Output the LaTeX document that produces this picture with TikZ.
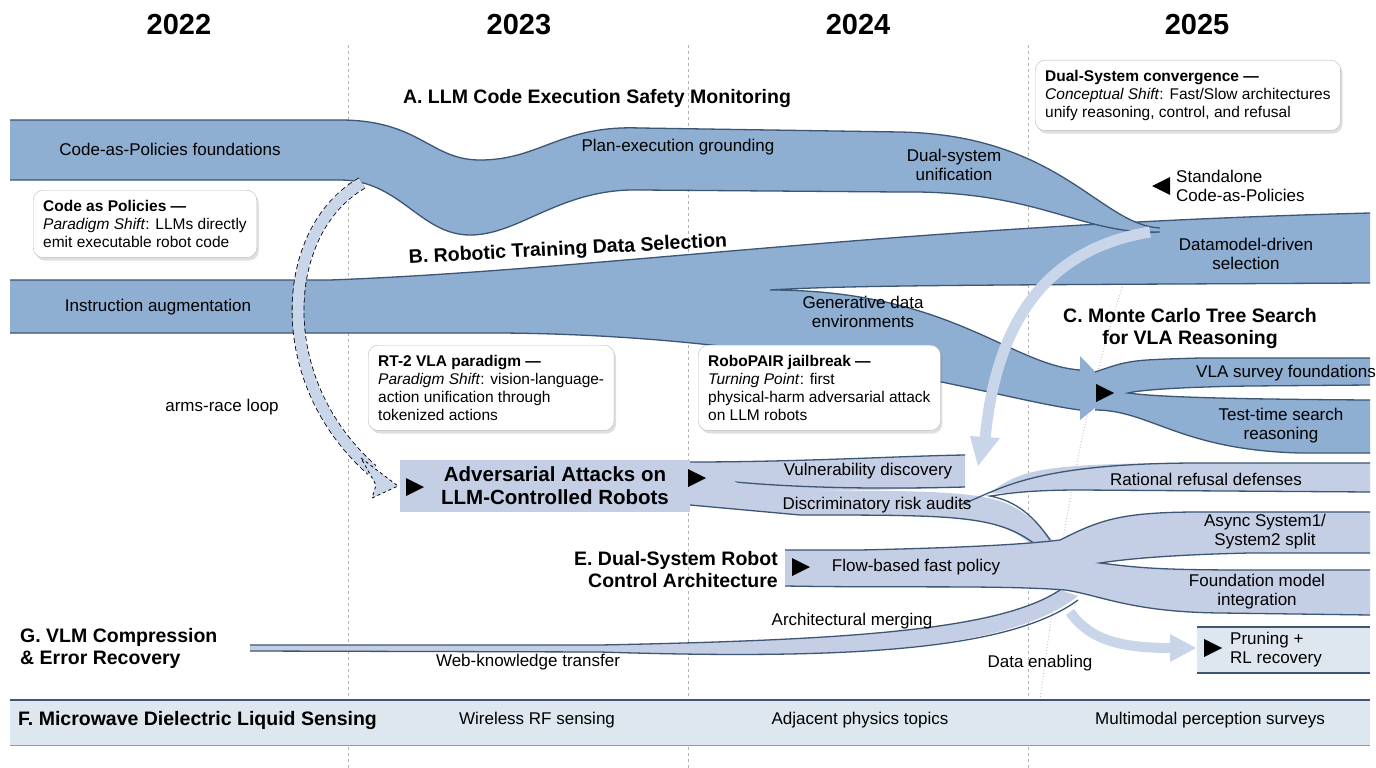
\documentclass[tikz,border=0pt]{standalone}
\usepackage{fontspec}
\setmainfont{Liberation Sans}
\usetikzlibrary{shadows,arrows.meta}
\definecolor{sA}{HTML}{8EAED2}
\definecolor{sEdge}{HTML}{3C5674}
\definecolor{sL}{HTML}{C4CEE4}
\definecolor{sF}{HTML}{DEE6EF}
\definecolor{arr}{HTML}{C9D6EA}
\tikzset{
 lab/.style={font=\fontsize{17}{19}\selectfont,align=center,inner sep=0pt},
 ttl/.style={font=\fontsize{19.5}{22}\selectfont\bfseries,align=center,inner sep=0pt},
 yr/.style={font=\fontsize{29}{32}\selectfont\bfseries,inner sep=0pt},
 card/.style={draw=gray!55,fill=white,rounded corners=10pt,drop shadow={opacity=0.25,shadow xshift=2pt,shadow yshift=-3pt},align=left,font=\fontsize{15.5}{18}\selectfont,inner sep=10pt,anchor=north west},
 edge/.style={draw=sEdge,line width=1.3pt},
 mk/.style={fill=black,draw=none},
}
\begin{document}
\begin{tikzpicture}[x=1pt,y=-1pt]
\useasboundingbox (0,0) rectangle (1376,768);
\fill[white] (0,0) rectangle (1376,768);
% year dividers
\foreach \x in {348,688,1028} \draw[gray!60,dashed,line width=0.6pt] (\x,45) -- (\x,768);
\draw[gray!50,dotted,line width=0.9pt] (1140,235) .. controls (1080,400) and (1060,550) .. (1040,700);
\node[yr] (y22) at (179,25) {2022};
\node[yr] (y23) at (519,25) {2023};
\node[yr] (y24) at (858,25) {2024};
\node[yr] (y25) at (1197,25) {2025};
% F band
\fill[sF] (10,700) -- (1370,700) -- (1370,745) -- (10,745) -- cycle;
\draw[edge] (10,700) -- (1370,700);
\draw[sEdge!60,line width=0.8pt] (10,745) -- (1370,745);
% stream B with branch to C
\fill[sA] (10,280) -- (330,280) .. controls (600,270) and (900,225) .. (1370,213) -- (1370,283) .. controls (1000,285) and (850,285) .. (770,290) .. controls (950,290) and (1010,365) .. (1080,370) -- (1080,356) -- (1115,392) -- (1080,420) -- (1080,410) .. controls (1000,400) and (800,335) .. (500,333) -- (10,333) -- cycle;
\draw[edge] (10,280) -- (330,280) .. controls (600,270) and (900,225) .. (1370,213);
\draw[edge] (1370,283) .. controls (1000,285) and (850,285) .. (770,290) .. controls (950,290) and (1010,365) .. (1080,370);
\draw[edge] (1080,410) .. controls (1000,400) and (800,335) .. (500,333) -- (10,333);
% C band
\fill[sA] (1095,372) .. controls (1130,360) .. (1200,358) -- (1370,358) -- (1370,385) -- (1250,386) .. controls (1180,387) and (1140,390) .. (1128,393) .. controls (1150,396) and (1200,399) .. (1370,400) -- (1370,453) -- (1300,453) .. controls (1180,450) and (1150,410) .. (1095,410) -- cycle;
\draw[edge] (1095,372) .. controls (1130,360) .. (1200,358) -- (1370,358);
\draw[edge] (1370,385) -- (1250,386) .. controls (1180,387) and (1140,390) .. (1128,393) .. controls (1150,396) and (1200,399) .. (1370,400);
\draw[edge] (1370,453) -- (1300,453) .. controls (1180,450) and (1150,410) .. (1095,410);
% stream A
\fill[sA] (10,120) -- (340,120) .. controls (420,120) and (430,160) .. (480,160) .. controls (540,160) and (560,125) .. (640,128) -- (900,132) .. controls (1060,135) and (1100,225) .. (1160,228) -- (1160,232) .. controls (1080,235) and (1040,190) .. (900,192) -- (640,190) .. controls (560,188) and (520,235) .. (470,235) .. controls (420,235) and (400,180) .. (340,180) -- (10,180) -- cycle;
\draw[edge] (10,120) -- (340,120) .. controls (420,120) and (430,160) .. (480,160) .. controls (540,160) and (560,125) .. (640,128) -- (900,132) .. controls (1060,135) and (1100,225) .. (1160,228);
\draw[edge] (1160,232) .. controls (1080,235) and (1040,190) .. (900,192) -- (640,190) .. controls (560,188) and (520,235) .. (470,235) .. controls (420,235) and (400,180) .. (340,180) -- (10,180);
% arms-race loop
\coordinate (arS) at (362,183);
\draw[black,dash pattern=on 5pt off 3pt,line width=12.6pt] (arS) .. controls (280,230) and (270,380) .. (372,470);
\draw[arr,line width=11pt] (arS) .. controls (280,230) and (270,380) .. (372,470);
\fill[arr,draw=black,dashed,line width=0.8pt] (361,458) -- (398,486) -- (372,498) -- (376,485) -- cycle;
% light arrow A/B merge -> vulnerability
\coordinate (mg) at (1150,232);
\draw[arr,line width=11pt] (mg) .. controls (1040,250) and (995,330) .. (985,440);
\fill[arr] (970,436) -- (1000,438) -- (978,466) -- cycle;
% D streams
\fill[sL] (690,462) .. controls (800,462) and (900,456) .. (965,455) -- (965,487) .. controls (900,490) and (800,492) .. (690,490) -- cycle;
\draw[edge] (690,462) .. controls (800,462) and (900,456) .. (965,455);
\draw[edge] (735,482) .. controls (780,486) and (850,490) .. (965,487);
\fill[sL] (735,482) .. controls (790,500) and (960,480) .. (1010,505) .. controls (1040,520) and (1050,540) .. (1060,548) -- (1035,548) .. controls (1000,515) and (960,515) .. (800,515) -- (690,505) -- (690,490) -- cycle;
\draw[edge] (690,505) -- (800,515) .. controls (960,515) and (1000,515) .. (1040,548);
\fill[sL] (990,493) .. controls (1020,470) and (1040,463) .. (1200,463) -- (1370,463) -- (1370,492) -- (1080,490) .. controls (1020,490) and (1000,495) .. (990,493) -- cycle;
\draw[edge] (960,505) .. controls (1000,490) and (1030,463) .. (1200,463) -- (1370,463);
\draw[edge] (1370,492) -- (1080,490) .. controls (1020,490) and (1000,495) .. (990,496) .. controls (1010,500) and (1030,510) .. (1050,540);
% D box
\node[fill=sL,minimum width=290pt,minimum height=52pt,anchor=north west,inner sep=0pt] (dbox) at (400,460) {};
\node[ttl,font=\fontsize{20.5}{23}\selectfont\bfseries] (dtxt) at (555,486) {Adversarial Attacks on\\LLM-Controlled Robots};
\fill[mk] (406,478) -- (424,487) -- (406,496) -- cycle;
\fill[mk] (688,469) -- (706,478) -- (688,487) -- cycle;
% G / architectural merging
\fill[sL] (250,645) -- (600,645) .. controls (850,640) and (1000,630) .. (1060,590) -- (1078,596) .. controls (1010,650) and (850,660) .. (600,652) -- (250,651) -- cycle;
\draw[edge] (250,645) -- (600,645) .. controls (850,640) and (1000,630) .. (1060,590);
\draw[edge] (1078,600) .. controls (1010,650) and (850,660) .. (600,652) -- (250,651);
% E shape
\fill[sL] (785,550) -- (860,550) .. controls (950,548) and (1020,545) .. (1060,540) .. controls (1100,520) and (1120,512) .. (1200,512) -- (1370,512) -- (1370,553) -- (1250,553) .. controls (1160,555) and (1120,560) .. (1100,563) .. controls (1140,568) and (1160,570) .. (1250,570) -- (1370,570) -- (1370,615) -- (1220,613) .. controls (1130,612) and (1100,595) .. (1065,590) .. controls (1000,585) and (900,588) .. (785,586) -- cycle;
\draw[edge] (785,550) -- (860,550) .. controls (950,548) and (1020,545) .. (1060,540) .. controls (1100,520) and (1120,512) .. (1200,512) -- (1370,512);
\draw[edge] (1370,553) -- (1250,553) .. controls (1160,555) and (1120,560) .. (1100,563) .. controls (1140,568) and (1160,570) .. (1250,570) -- (1370,570);
\draw[edge] (1370,615) -- (1220,613) .. controls (1130,612) and (1100,595) .. (1065,590) .. controls (1000,585) and (900,588) .. (785,586);
\fill[mk] (792,558) -- (810,567) -- (792,576) -- cycle;
% data enabling arrow
\coordinate (deS) at (1070,612);
\draw[arr,line width=10pt] (deS) .. controls (1090,640) and (1120,648) .. (1172,648);
\fill[arr] (1170,634) -- (1196,648) -- (1170,662) -- cycle;
% pruning box
\fill[sF] (1197,627) rectangle (1370,673);
\draw[edge] (1197,627) -- (1370,627);
\draw[edge] (1197,673) -- (1370,673);
\fill[mk] (1204,639) -- (1222,648) -- (1204,657) -- cycle;
% markers A / C
\fill[mk] (1152,186) -- (1170,177) -- (1170,195) -- cycle;
\fill[mk] (1096,384) -- (1114,393) -- (1096,402) -- cycle;
% cards
\node[card] (cap) at (33,190) {\textbf{Code as Policies —}\\\textit{Paradigm Shift}: LLMs directly\\emit executable robot code};
\node[card] (rt2) at (368,345) {\textbf{RT-2 VLA paradigm —}\\\textit{Paradigm Shift}: vision-language-\\action unification through\\tokenized actions};
\node[card] (rpair) at (698,345) {\textbf{RoboPAIR jailbreak —}\\\textit{Turning Point}: first\\physical-harm adversarial attack\\on LLM robots};
\node[card] (dsc) at (1035,60) {\textbf{Dual-System convergence —}\\\textit{Conceptual Shift}: Fast/Slow architectures\\unify reasoning, control, and refusal};
% titles
\node[ttl] (tA) at (597,99) {A. LLM Code Execution Safety Monitoring};
\node[ttl,rotate=3] (tB) at (568,250) {B. Robotic Training Data Selection};
\node[ttl] (tC) at (1190,328) {C. Monte Carlo Tree Search\\for VLA Reasoning};
\node[ttl,align=right,anchor=east] (tE) at (778,570) {E. Dual-System Robot\\Control Architecture};
\node[ttl,align=left,anchor=west] (tG) at (20,648) {G. VLM Compression\\\& Error Recovery};
\node[ttl,anchor=west] (tF) at (18,720) {F. Microwave Dielectric Liquid Sensing};
% labels
\node[lab] at (170,149) {Code-as-Policies foundations};
\node[lab] at (678,147) {Plan-execution grounding};
\node[lab] at (954,165) {Dual-system\\unification};
\node[lab,align=left,anchor=west] at (1176,186) {Standalone\\Code-as-Policies};
\node[lab] at (1246,254) {Datamodel-driven\\selection};
\node[lab] at (158,307) {Instruction augmentation};
\node[lab] at (863,312) {Generative data\\environments};
\node[lab] at (1286,373) {VLA survey foundations};
\node[lab] at (1281,426) {Test-time search\\reasoning};
\node[lab] at (222,407) {arms-race loop};
\node[lab] at (868,471) {Vulnerability discovery};
\node[lab] at (877,505) {Discriminatory risk audits};
\node[lab] at (1206,479) {Rational refusal defenses};
\node[lab] at (916,567) {Flow-based fast policy};
\node[lab] at (1265,532) {Async System1/\\System2 split};
\node[lab] at (1257,592) {Foundation model\\integration};
\node[lab] at (852,621) {Architectural merging};
\node[lab] at (528,662) {Web-knowledge transfer};
\node[lab] at (1040,663) {Data enabling};
\node[lab,align=left,anchor=west] at (1230,650) {Pruning +\\RL recovery};
\node[lab] at (537,720) {Wireless RF sensing};
\node[lab] at (860,720) {Adjacent physics topics};
\node[lab] at (1210,720) {Multimodal perception surveys};
\end{tikzpicture}
\end{document}
